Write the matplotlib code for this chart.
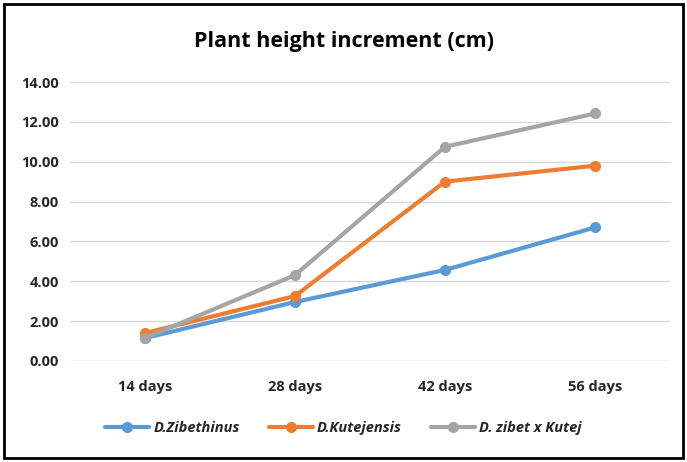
import matplotlib
matplotlib.use('Agg')
import matplotlib.pyplot as plt
from matplotlib.patches import Rectangle

plt.rcParams['font.family'] = ['Open Sans', 'DejaVu Sans']

# data
days = ['14 days', '28 days', '42 days', '56 days']
zibethinus = [1.15, 2.96, 4.57, 6.70]
kutejensis = [1.40, 3.26, 9.00, 9.80]
hybrid = [1.15, 4.31, 10.75, 12.42]
series_names = ['D.Zibethinus', 'D.Kutejensis', 'D. zibet x Kutej']
colors = ['#5b9bd5', '#ed7d31', '#a5a5a5']

fig = plt.figure(figsize=(6.87, 4.62), dpi=100)
ax = fig.add_axes([70 / 687, 1 - 361 / 462, 600 / 687, (361 - 82) / 462])

x = range(len(days))
for vals, name, c in zip([zibethinus, kutejensis, hybrid], series_names, colors):
    ax.plot(x, vals, color=c, lw=3, marker='o', ms=7, label=name,
            solid_capstyle='round')

ax.set_xlim(-0.5, 3.5)
ax.set_ylim(0, 14)
ax.set_yticks(range(0, 15, 2))
ax.set_yticklabels([f'{v:.2f}' for v in range(0, 15, 2)])
ax.set_xticks(list(x))
ax.set_xticklabels(days)
ax.grid(axis='y', color='#d9d9d9', lw=1)
ax.set_axisbelow(True)
for s in ax.spines.values():
    s.set_visible(False)
ax.tick_params(length=0, labelsize=10.5, colors='#262626', pad=8)
for lbl in ax.get_xticklabels() + ax.get_yticklabels():
    lbl.set_fontweight('bold')
ax.tick_params(axis='x', pad=14)

fig.text(0.5, 1 - 42 / 462, 'Plant height increment (cm)', ha='center', va='center',
         fontsize=15.5, fontweight='bold', color='black')

leg = fig.legend(loc='center', bbox_to_anchor=(0.5, 1 - 428 / 462), ncol=3,
                 frameon=False, handlelength=3, columnspacing=2.0, handletextpad=0.3,
                 prop={'style': 'italic', 'weight': 'bold', 'size': 10.5})
for t in leg.get_texts():
    t.set_color('#262626')

# outer black frame
fig.patches.append(Rectangle((4 / 687, 4 / 462), 679 / 687, 454 / 462, transform=fig.transFigure,
                             fill=False, edgecolor='black', lw=2))

fig.savefig('out.png', dpi=100)
